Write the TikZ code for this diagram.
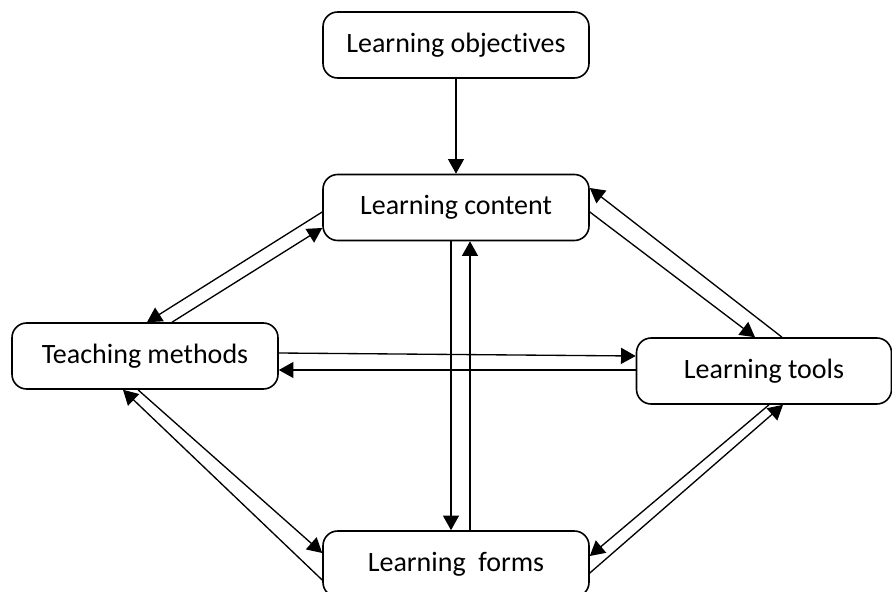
\documentclass[tikz,border=0pt]{standalone}
\usepackage{fontspec}
\setmainfont{Carlito}[Ligatures={NoCommon}]
\usepackage{tikz}
\usepackage{xcolor}
\usetikzlibrary{arrows.meta,calc}

\begin{document}
\begin{tikzpicture}[x={0.75pt}, y={-0.75pt}]
				\definecolor{ALMOST_BLACK}{RGB}{0, 0, 0}
				\definecolor{ALMOST_WHITE}{RGB}{255, 255, 255}
				\tikzset{
					stagebox/.style={draw={ALMOST_BLACK}, fill={ALMOST_WHITE}, line width={1.2pt}, rounded corners={11pt}, minimum width={199.5pt}, minimum height={49.5pt}, inner sep={0pt}, font={\fontsize{21}{25}\selectfont}},
					flow/.style={line width={1pt}, color={ALMOST_BLACK}, -{Triangle[length={11pt}, width={12pt}]}}
				}
				\useasboundingbox (0, 0) rectangle (892, 592);
				
				\node[stagebox] (objectives) at (456, 45) {Learning objectives};
				\node[stagebox] (content) at (456, 207.5) {Learning content};
				\node[stagebox] (methods) at (145, 356) {Teaching methods};
				\node[stagebox, minimum width={191.25pt}] (tools) at (764, 371) {Learning tools};
				\node[stagebox] (forms) at (456, 564) {Learning\ \ forms};
				
				\draw[flow] (objectives.south) -- (content.north);
				
				\draw[flow] ($(content.south) + (-5, 0)$) -- ($(forms.north) + (-5, 0)$);
				\draw[flow] ($(forms.north) + (14, 0)$) -- ($(content.south) + (14, 0)$);
				
				\draw[flow] ($(content.west) + (0, 4.5)$) -- ($(methods.north) + (2, 0)$);
				\draw[flow] ($(methods.north) + (27, 0)$) -- ($(content.west) + (0, 20.5)$);
				
				\draw[flow] ($(content.east) + (0, 4.5)$) -- ($(tools.north) + (-9, 0)$);
				\draw[flow] ($(tools.north) + (18, 0)$) -- ($(content.east) + (0, -19.5)$);
				
				\draw[flow] ($(methods.east) + (0, -3)$) -- ($(tools.west) + (0, -15)$);
				\draw[flow] ($(tools.west) + (0, -1)$) -- ($(methods.east) + (0, 14)$);
				
				\draw[flow] ($(methods.south) + (-7, 0)$) -- ($(forms.west) + (0, -11)$);
				\draw[flow] ($(forms.west) + (0, 16)$) -- ($(methods.south) + (-22, 0)$);
				
				\draw[flow] ($(tools.south) + (5, 0)$) -- ($(forms.east) + (0, -8)$);
				\draw[flow] ($(forms.east) + (0, 9)$) -- ($(tools.south) + (19, 0)$);
				
			\end{tikzpicture}
\end{document}
